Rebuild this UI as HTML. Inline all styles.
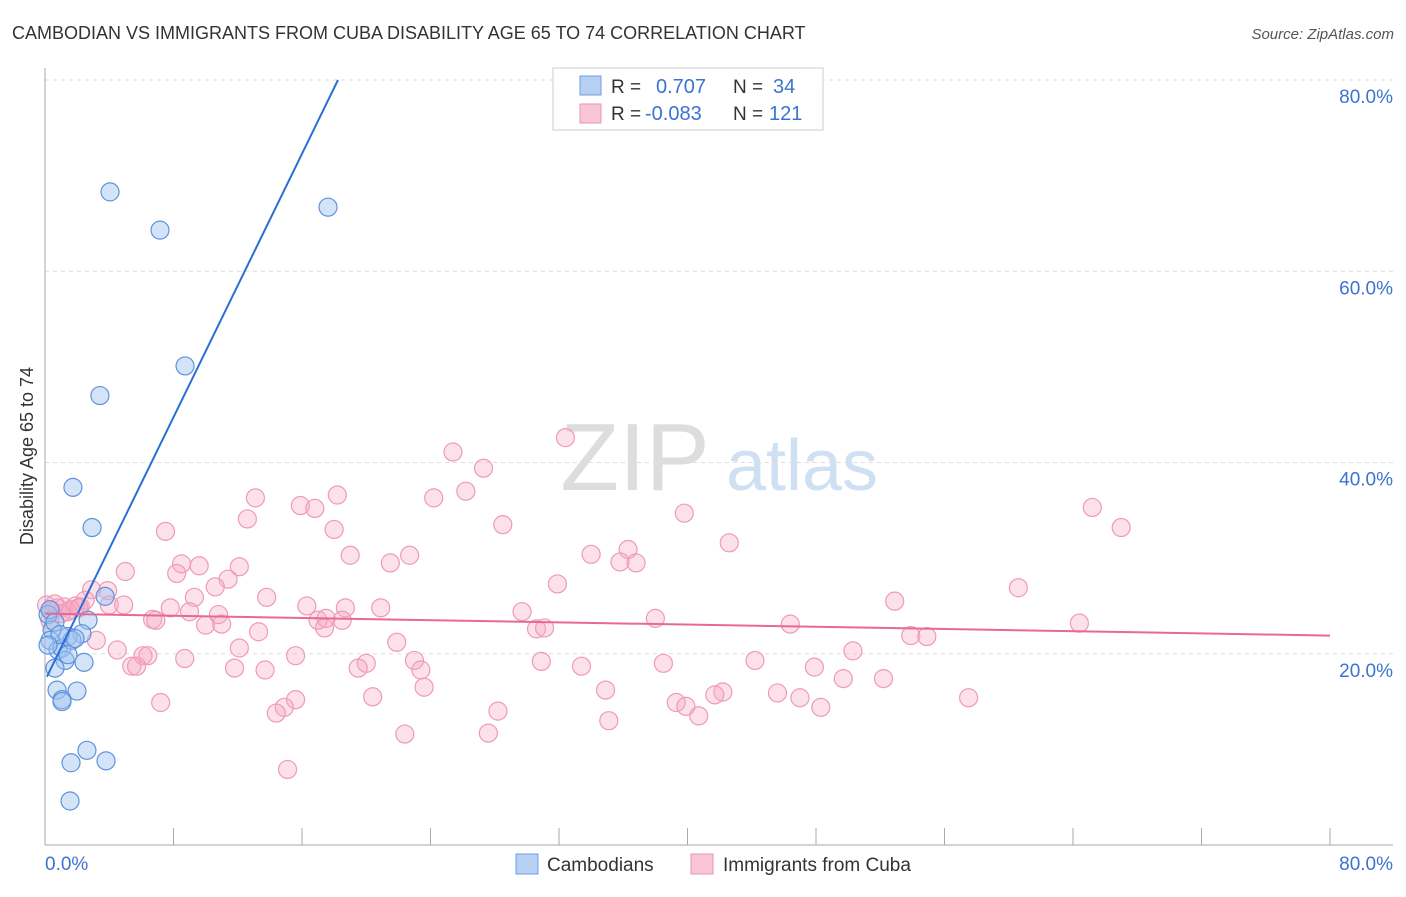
<!DOCTYPE html>
<html><head><meta charset="utf-8">
<style>
body{margin:0;background:#fff;font-family:"Liberation Sans",sans-serif;}
svg text{font-family:"Liberation Sans",sans-serif;}
</style></head>
<body>
<svg id="chart" width="1406" height="892" xmlns="http://www.w3.org/2000/svg">
<text x="12" y="39" font-size="18" fill="#333">CAMBODIAN VS IMMIGRANTS FROM CUBA DISABILITY AGE 65 TO 74 CORRELATION CHART</text>
<text x="1394" y="39" font-size="15" fill="#555" text-anchor="end" font-style="italic">Source: ZipAtlas.com</text>
<g>
<text x="635" y="490" font-size="96" fill="#ddd" font-family="Liberation Serif" text-anchor="middle">ZIP</text>
<text x="802" y="490" font-size="72" fill="#cfe0f3" text-anchor="middle">atlas</text>
</g>
<g id="grid"></g>
<g id="axes"></g>
<g id="pts"></g>
<g id="lines"></g>
<text transform="translate(33,456) rotate(-90)" font-size="18" fill="#333" text-anchor="middle">Disability Age 65 to 74</text>
<g>
<rect x="553" y="68" width="270" height="62" fill="#fff" stroke="#ccc"/>
<rect x="580" y="76" width="21" height="19" fill="#b7d0f2" stroke="#6d9ee0"/>
<rect x="580" y="104" width="21" height="19" fill="#f8c6d6" stroke="#ee93b1"/>
<text x="611" y="93" font-size="19" fill="#333">R =</text>
<text x="656" y="93" font-size="20" fill="#3b74d0">0.707</text>
<text x="733" y="93" font-size="19" fill="#333">N =</text>
<text x="773" y="93" font-size="20" fill="#3b74d0">34</text>
<text x="611" y="120" font-size="19" fill="#333">R =</text>
<text x="645" y="120" font-size="20" fill="#3b74d0">-0.083</text>
<text x="733" y="120" font-size="19" fill="#333">N =</text>
<text x="769" y="120" font-size="20" fill="#3b74d0">121</text>
</g>
<g>
<rect x="516" y="854" width="22" height="20" fill="#b7d0f2" stroke="#6d9ee0"/>
<text x="547" y="871" font-size="19" fill="#333">Cambodians</text>
<rect x="691" y="854" width="22" height="20" fill="#f8c6d6" stroke="#ee93b1"/>
<text x="723" y="871" font-size="19" fill="#333">Immigrants from Cuba</text>
</g>
</svg>
<script>
const xTickLabels=["0.0%","80.0%"];
const yTicks=[20,40,60,80];
const yTickLabels=["20.0%","40.0%","60.0%","80.0%"];
const blueX=[4.05,7.16,17.62,8.72,3.42,1.74,2.93,3.74,2.68,2.30,0.19,0.44,0.31,0.81,1.06,1.43,1.68,1.25,0.62,2.43,1.99,0.75,1.06,1.06,2.61,1.62,3.80,1.56,0.31,0.62,0.93,1.87,1.43,0.19];
const blueY=[68.3,64.3,66.7,50.1,47.0,37.4,33.2,26.0,23.5,22.1,24.1,22.5,21.4,20.4,20.6,21.8,21.4,19.3,18.5,19.1,16.1,16.2,15.2,15.0,9.9,8.6,8.8,4.6,24.6,23.3,22.0,21.6,19.9,20.9];
const pinkX=[32.4,25.4,27.3,24.2,26.2,18.2,13.1,65.2,67.0,15.9,16.8,7.5,12.6,18.0,28.5,39.8,42.6,19.0,22.7,34.0,36.3,35.8,36.8,8.5,9.6,12.1,21.5,5.0,8.2,11.4,10.6,31.9,60.6,3.9,2.9,9.3,13.8,52.9,4.0,4.9,2.2,7.8,9.0,10.8,16.3,18.7,20.9,29.7,6.7,6.9,10.0,11.0,17.0,17.5,18.5,17.4,38.0,46.4,64.4,30.6,31.1,53.9,54.9,13.3,3.2,21.9,12.1,4.5,6.1,6.4,8.7,15.6,23.0,30.9,50.3,44.2,38.5,20.0,19.5,5.4,5.7,11.8,13.7,23.4,33.4,47.9,49.7,52.2,23.6,34.9,42.2,41.7,15.6,20.4,7.2,45.6,47.0,57.5,48.3,39.3,39.9,28.2,14.9,14.4,40.7,35.1,22.4,27.6,15.1,0.1,0.4,0.8,1.2,1.6,1.9,0.3,1.4,2.1,1.0,2.5,0.6];
const pinkY=[42.6,41.1,39.4,36.3,37.0,36.6,36.3,35.3,33.2,35.5,35.2,32.8,34.1,33.0,33.5,34.7,31.6,30.3,30.3,30.4,30.9,29.6,29.5,29.4,29.2,29.1,29.5,28.6,28.4,27.8,27.0,27.3,26.9,26.6,26.7,25.9,25.9,25.5,25.1,25.1,24.9,24.8,24.4,24.1,25.0,24.8,24.8,24.4,23.6,23.5,23.0,23.1,23.5,23.7,23.5,22.7,23.7,23.1,23.2,22.6,22.7,21.9,21.8,22.3,21.4,21.2,20.6,20.4,19.8,19.8,19.5,19.8,19.3,19.2,20.3,19.3,19.0,19.0,18.5,18.7,18.7,18.5,18.3,18.3,18.7,18.6,17.4,17.4,16.5,16.2,16.0,15.7,15.2,15.5,14.9,15.9,15.4,15.4,14.4,14.9,14.5,14.0,14.4,13.8,13.5,13.0,11.6,11.7,7.9,25.1,24.4,24.8,24.9,24.6,25.0,23.5,24.4,24.8,24.2,25.6,25.2];
const blueLine=[[0.12,17.6],[18.24,80]];
const pinkLine=[[0,24.2],[80,21.9]];
const NS="http://www.w3.org/2000/svg";
const X=v=>45+v*1285/80;
const Y=v=>845-v*765/80;
function mk(tag,attrs,parent){const e=document.createElementNS(NS,tag);for(const k in attrs)e.setAttribute(k,attrs[k]);parent.appendChild(e);return e;}
const grid=document.getElementById('grid'),axes=document.getElementById('axes'),pts=document.getElementById('pts'),lines=document.getElementById('lines');
yTicks.forEach((t,i)=>{
 const l=mk('line',{x1:45,x2:1393,y1:Y(t),y2:Y(t),stroke:'#ddd','stroke-dasharray':'4 4'},grid);
 
 
 const tx=mk('text',{x:1393,y:Y(t)+23,'font-size':19,fill:'#3b74d0','text-anchor':'end'},axes);
 tx.textContent=yTickLabels[i];
 
 
});
const ya=mk('line',{x1:45,x2:45,y1:68,y2:845,stroke:'#aaa'},axes);


const xa=mk('line',{x1:45,x2:1393,y1:845,y2:845,stroke:'#aaa'},axes);


for(let i=0;i<=10;i++){
 const tk=mk('line',{x1:X(i*8),x2:X(i*8),y1:828,y2:845,stroke:'#aaa'},axes);
 
 
}
[[0,'start',45],[80,'end',1393]].forEach((d,i)=>{
 const tx=mk('text',{x:d[2],y:870,'font-size':19,fill:'#3b74d0','text-anchor':d[1]},axes);
 tx.textContent=xTickLabels[i];
 
 
});
pinkX.forEach((v,i)=>{
 const c=mk('circle',{cx:X(v),cy:Y(pinkY[i]),r:9,fill:'rgba(246,170,195,0.35)',stroke:'#ef9ab6','stroke-width':1.2},pts);
 
 
});
blueX.forEach((v,i)=>{
 const c=mk('circle',{cx:X(v),cy:Y(blueY[i]),r:9,fill:'rgba(160,196,240,0.45)',stroke:'#5f92dc','stroke-width':1.2},pts);
 
 
});
const bl=mk('line',{x1:X(blueLine[0][0]),y1:Y(blueLine[0][1]),x2:X(blueLine[1][0]),y2:Y(blueLine[1][1]),stroke:'#2a6fd6','stroke-width':2},lines);


const pl=mk('line',{x1:X(pinkLine[0][0]),y1:Y(pinkLine[0][1]),x2:X(pinkLine[1][0]),y2:Y(pinkLine[1][1]),stroke:'#e8679a','stroke-width':2},lines);


</script>
</body></html>
